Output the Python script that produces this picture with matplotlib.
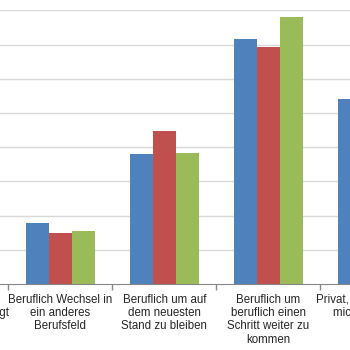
import numpy as np
import matplotlib.pyplot as plt

plt.rcParams['font.family'] = ['Liberation Sans', 'DejaVu Sans']

categories = [
    "Beruflich weil es\nvom Betrieb verlangt",
    "Beruflich Wechsel in\nein anderes\nBerufsfeld",
    "Beruflich um auf\ndem neuesten\nStand zu bleiben",
    "Beruflich um\nberuflich einen\nSchritt weiter zu\nkommen",
    "Privat, weil Lernen für\nmich wichtig ist",
]
# three series, values in percent (gridline every 5)
series_blue = [12.0, 8.9, 19.0, 35.8, 27.0]
series_red = [11.0, 7.4, 22.4, 34.6, 25.0]
series_green = [13.0, 7.7, 19.1, 39.0, 30.0]
colors = ['#4F81BD', '#C0504D', '#9BBB59']

fig = plt.figure(figsize=(3.5, 3.5), dpi=100)
ax = fig.add_axes([0, 0.1886, 1, 0.782])

x = np.arange(len(categories))
w = 0.222
for k, (vals, c) in enumerate(zip([series_blue, series_red, series_green], colors)):
    ax.bar(x + (k - 1) * w, vals, width=w, color=c, zorder=3)

ax.set_yticks(np.arange(5, 41, 5))
ax.yaxis.grid(True, color='#d9d9d9', linewidth=1.0, zorder=0)
ax.tick_params(axis='y', left=False, labelleft=False)

# category labels as annotations so the cut-off ones at the edges still show
ax.set_xticks(x)
ax.set_xticklabels([])
ax.tick_params(axis='x', which='major', length=0)
for xi, lab in zip(x, categories):
    ax.annotate(lab, xy=(xi, 0), xytext=(0, -7), textcoords='offset points',
                ha='center', va='top', fontsize=8.3, color='#262626',
                linespacing=1.15, annotation_clip=False)
ax.set_xticks(x[:-1] + 0.5, minor=True)
ax.tick_params(axis='x', which='minor', length=4, color='#868686', width=1)

# crop like the reference: only part of the chart is visible
ax.set_ylim(0, 40)
ax.set_xlim(0.420, 3.786)

for s in ['top', 'left', 'right']:
    ax.spines[s].set_visible(False)
ax.spines['bottom'].set_color('#868686')
ax.spines['bottom'].set_zorder(4)

fig.savefig('out.png', dpi=100)
